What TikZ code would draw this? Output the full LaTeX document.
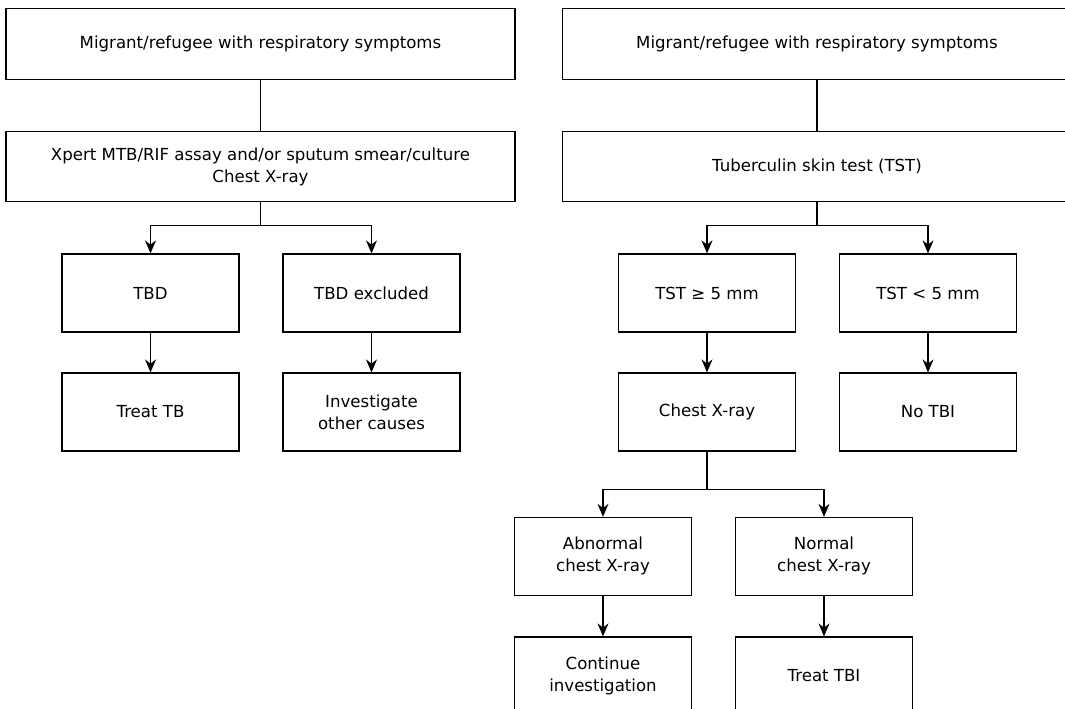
\documentclass[tikz,border=0pt]{standalone}
\usepackage{fontspec}
\setmainfont{DejaVu Sans}
\usetikzlibrary{positioning, arrows.meta}

\begin{document}
\begin{tikzpicture}[x=1pt, y=-1pt, on grid,
    font=\fontsize{16.6}{22}\selectfont,
    box/.style={draw, line width=1.2pt, align=center, inner sep=0pt},
    wide/.style={box, minimum width=509pt, minimum height=70.7pt},
    small/.style={box, minimum width=177pt, minimum height=78pt},
    >={Stealth[length=13pt, width=11pt]}, line width=1.2pt]
    \clip (0,0) rectangle (1065,709);
    \fill[white] (0,0) rectangle (1065,709);

    % left: symptomatic TBD
    \node[wide] (topL) at (260.5,44) {Migrant/refugee with respiratory symptoms};
    \node[wide] (testL) [below=122.5pt of topL] {Xpert MTB/RIF assay and/or sputum smear/culture\\Chest X-ray};
    \node[small] (tbd) [below left=126.5pt and 110pt of testL] {TBD};
    \node[small] (tbdno) [below right=126.5pt and 111pt of testL] {TBD excluded};
    \node[small] (treattb) [below=119pt of tbd] {Treat TB};
    \node[small] (other) [below=119pt of tbdno] {Investigate\\other causes};

    % right: TST path
    \node[wide] (topR) at (817,44) {Migrant/refugee with respiratory symptoms};
    \node[wide] (tst) [below=122.5pt of topR] {Tuberculin skin test (TST)};
    \node[small] (tstpos) [below left=126.5pt and 110pt of tst] {TST ≥ 5 mm};
    \node[small] (tstneg) [below right=126.5pt and 111pt of tst] {TST < 5 mm};
    \node[small] (cxr) [below=119pt of tstpos] {Chest X-ray};
    \node[small] (notbi) [below=119pt of tstneg] {No TBI};
    \node[small] (abn) [below left=144.4pt and 104pt of cxr] {Abnormal\\chest X-ray};
    \node[small] (norm) [below right=144.4pt and 117pt of cxr] {Normal\\chest X-ray};
    \node[small] (cont) [below=119.6pt of abn] {Continue\\investigation};
    \node[small] (treattbi) [below=119.6pt of norm] {Treat TBI};

    % connectors
    \draw (topL) -- (testL);
    \draw (testL.south) -- ++(0,23.3) coordinate (forkL);
    \draw[->] (forkL) -| (tbd);
    \draw[->] (forkL) -| (tbdno);
    \draw[->] (tbd) -- (treattb);
    \draw[->] (tbdno) -- (other);

    \draw (topR) -- (tst);
    \draw (tst.south) -- ++(0,23.3) coordinate (forkR);
    \draw[->] (forkR) -| (tstpos);
    \draw[->] (forkR) -| (tstneg);
    \draw[->] (tstpos) -- (cxr);
    \draw[->] (tstneg) -- (notbi);
    \draw (cxr.south) -- ++(0,38) coordinate (forkX);
    \draw[->] (forkX) -| (abn);
    \draw[->] (forkX) -| (norm);
    \draw[->] (abn) -- (cont);
    \draw[->] (norm) -- (treattbi);
\end{tikzpicture}
\end{document}
